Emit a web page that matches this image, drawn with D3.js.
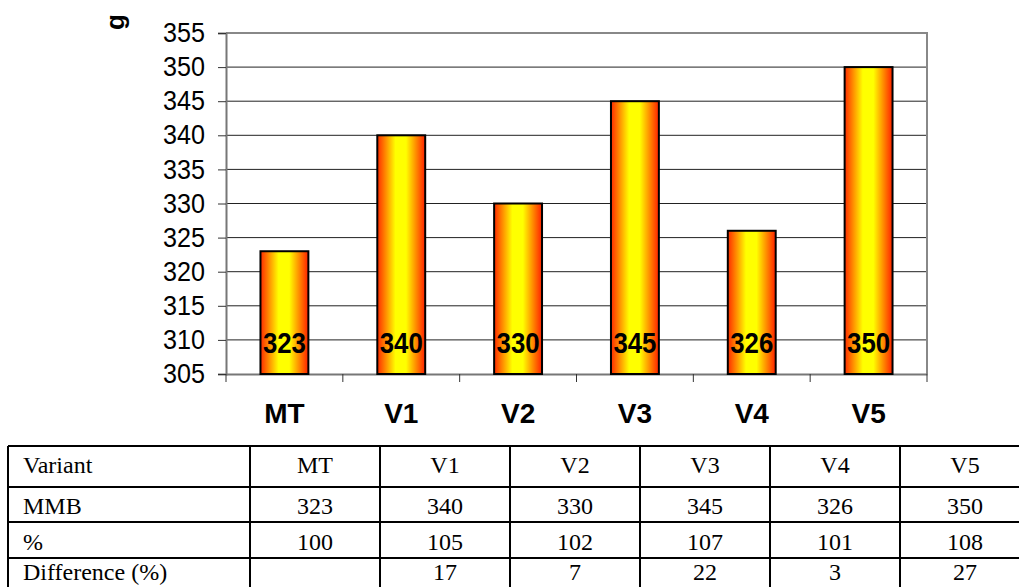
<!DOCTYPE html>
<html>
<head>
<meta charset="utf-8">
<script src="https://cdn.jsdelivr.net/npm/d3@7"></script>
<style>
  body { margin: 0; background: #fff; }
  svg { display: block; }
</style>
</head>
<body>
<div id="chart"></div>
<script>
// data
const categories = ['MT', 'V1', 'V2', 'V3', 'V4', 'V5'];
const mmb = [323, 340, 330, 345, 326, 350];
const pct = [100, 105, 102, 107, 101, 108];
const diff = ['', 17, 7, 22, 3, 27];
const rowLabels = ['Variant', 'MMB', '%', 'Difference (%)'];
const yTicks = [305, 310, 315, 320, 325, 330, 335, 340, 345, 350, 355];
const yTitle = 'g';

const W = 1019, H = 587;
const plot = {left: 226, right: 927, top: 33, bottom: 374};

const svg = d3.select('#chart').append('svg')
    .attr('width', W)
    .attr('height', H);

const grad = svg.append('defs').append('linearGradient')
    .attr('id', 'barGrad')
    .attr('x1', '0%').attr('x2', '100%').attr('y1', '0%').attr('y2', '0%');
grad.selectAll('stop')
  .data([[0, '#ff2a00'], [0.38, '#ffff00'], [0.6, '#ffff00'], [1, '#ff2000']])
  .join('stop')
    .attr('offset', d => d[0])
    .attr('stop-color', d => d[1]);

const xScale = d3.scaleBand()
    .domain(categories)
    .range([plot.left, plot.right]);

const yScale = d3.scaleLinear()
    .domain([305, 355])
    .range([plot.bottom, plot.top]);

// gridlines
svg.append('g')
  .selectAll('line')
  .data(yTicks.filter(t => t > 305 && t < 355))
  .join('line')
    .attr('x1', plot.left).attr('x2', plot.right)
    .attr('y1', d => yScale(d)).attr('y2', d => yScale(d))
    .attr('stroke', '#222')
    .attr('stroke-width', 1);

// frame (top + right) in grey
svg.append('path')
    .attr('d', `M${plot.left},${yScale(355)}H${plot.right}V${plot.bottom}`)
    .attr('fill', 'none')
    .attr('stroke', '#888')
    .attr('stroke-width', 2);

// y axis
const yAxis = svg.append('g')
    .attr('transform', `translate(${plot.left},0)`)
    .call(d3.axisLeft(yScale).tickValues(yTicks).tickSize(8).tickPadding(13));
yAxis.select('.domain').attr('stroke', '#777').attr('stroke-width', 2);
yAxis.selectAll('.tick line').attr('stroke', '#333');
yAxis.selectAll('.tick text')
    .attr('font-family', 'Arial, "Liberation Sans", sans-serif')
    .attr('font-size', 27)
    .attr('fill', '#000')
    .attr('textLength', 42)
    .attr('lengthAdjust', 'spacingAndGlyphs');

// x axis
const xAxis = svg.append('g')
    .attr('transform', `translate(0,${plot.bottom})`)
    .call(d3.axisBottom(xScale).tickSize(0).tickPadding(29));
xAxis.select('.domain').attr('stroke', '#777').attr('stroke-width', 2);
xAxis.selectAll('.tick text')
    .attr('font-family', 'Arial, "Liberation Sans", sans-serif')
    .attr('font-weight', 'bold')
    .attr('font-size', 28)
    .attr('fill', '#000');

// category boundary ticks
svg.append('g')
  .selectAll('line')
  .data(categories.concat(['end']))
  .join('line')
    .attr('x1', (d, i) => plot.left + i * xScale.bandwidth())
    .attr('x2', (d, i) => plot.left + i * xScale.bandwidth())
    .attr('y1', plot.bottom)
    .attr('y2', plot.bottom + 8)
    .attr('stroke', '#333');

// bars
const barW = xScale.bandwidth() * 0.41;
svg.append('g')
  .selectAll('rect')
  .data(mmb)
  .join('rect')
    .attr('x', (d, i) => xScale(categories[i]) + (xScale.bandwidth() - barW) / 2)
    .attr('y', d => yScale(d))
    .attr('width', barW)
    .attr('height', d => plot.bottom - yScale(d))
    .attr('fill', 'url(#barGrad)')
    .attr('stroke', '#000')
    .attr('stroke-width', 2);

// bar labels
svg.append('g')
  .selectAll('text')
  .data(mmb)
  .join('text')
    .attr('x', (d, i) => xScale(categories[i]) + xScale.bandwidth() / 2)
    .attr('y', yScale(305) - 21)
    .attr('text-anchor', 'middle')
    .attr('font-family', 'Arial, "Liberation Sans", sans-serif')
    .attr('font-weight', 'bold')
    .attr('font-size', 29)
    .attr('textLength', 43)
    .attr('lengthAdjust', 'spacingAndGlyphs')
    .text(d => d);

// y title
svg.append('text')
    .attr('transform', 'translate(124,22) rotate(-90)')
    .attr('text-anchor', 'middle')
    .attr('font-family', 'Arial, "Liberation Sans", sans-serif')
    .attr('font-weight', 'bold')
    .attr('font-size', 26)
    .text(yTitle);

// table
const colScale = d3.scaleBand()
    .domain(categories)
    .range([250, 1030]);
const rowEdges = [446, 487, 522, 558, 594];
const tableLeft = 8;
const rows = [categories, mmb, pct, diff];

const table = svg.append('g')
    .attr('font-family', '"Times New Roman", "Liberation Serif", serif')
    .attr('font-size', 24)
    .attr('fill', '#000');

table.selectAll('line.h')
  .data(rowEdges)
  .join('line')
    .attr('class', 'h')
    .attr('x1', tableLeft).attr('x2', 1030)
    .attr('y1', d => d).attr('y2', d => d)
    .attr('stroke', '#000').attr('stroke-width', 2);

table.selectAll('line.v')
  .data([tableLeft].concat(categories.map(c => colScale(c))))
  .join('line')
    .attr('class', 'v')
    .attr('x1', d => d).attr('x2', d => d)
    .attr('y1', rowEdges[0]).attr('y2', rowEdges[rowEdges.length - 1])
    .attr('stroke', '#000').attr('stroke-width', 2);

const baseOff = [14, 8, 8, 14];
rows.forEach((row, r) => {
  const yb = rowEdges[r + 1] - baseOff[r];
  table.append('text')
      .attr('x', tableLeft + 15)
      .attr('y', yb)
      .text(rowLabels[r]);
  table.append('g')
    .selectAll('text')
    .data(row)
    .join('text')
      .attr('x', (d, i) => colScale(categories[i]) + colScale.bandwidth() / 2)
      .attr('y', yb)
      .attr('text-anchor', 'middle')
      .text(d => d);
});
</script>
</body>
</html>
